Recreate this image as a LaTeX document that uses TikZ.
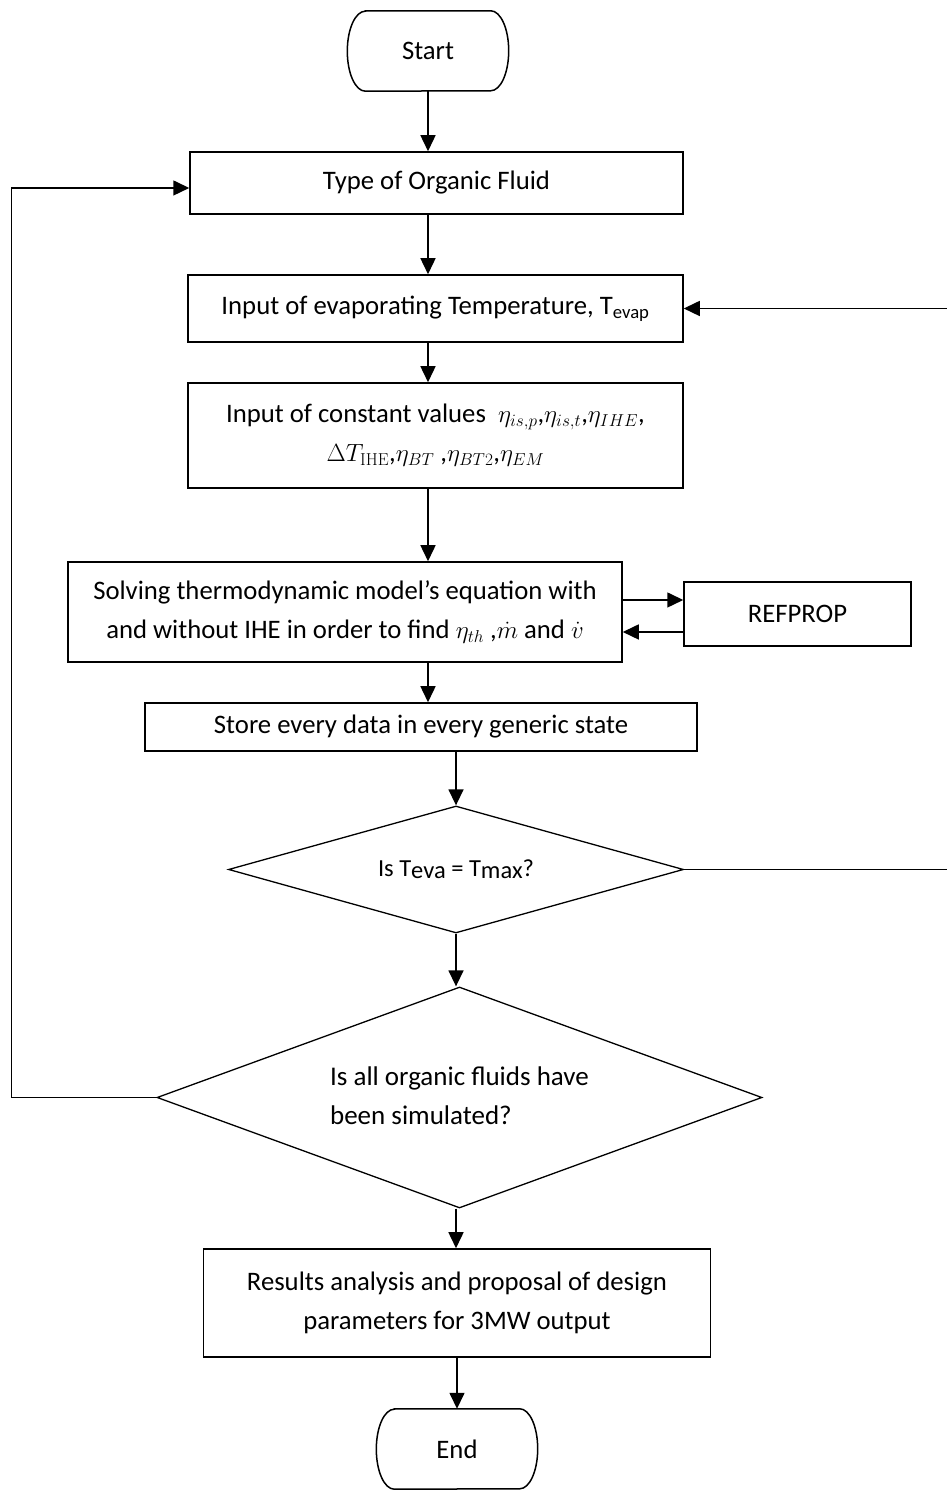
\documentclass[tikz,border=0pt]{standalone}
\usepackage[no-math]{fontspec}
\setmainfont{Carlito}
\usetikzlibrary{arrows.meta, positioning, shapes.geometric}

\begin{document}
\begin{tikzpicture}[
  x=1pt, y=1pt,
  font=\fontsize{26.7}{39}\selectfont,
  >={Triangle[length=16pt,width=15pt]},
  box/.style={draw, line width=1.5pt, align=center, inner sep=0pt},
  term/.style={inner sep=0pt, minimum width=161pt, minimum height=80pt},
  decision/.style={draw, diamond, line width=1.3pt, inner sep=0pt, align=left},
  flow/.style={->, line width=1.5pt}
]
\useasboundingbox (0,0) rectangle (946,1490);

% Terminals
\node[term] (start) at (428,1439) {Start};
\node[term] (end) at (457,41) {End};
\foreach \t in {start,end}
  \draw[line width=1.5pt] ([xshift=18pt]\t.north west) -- ([xshift=-18pt]\t.north east)
    arc[start angle=90, end angle=-90, x radius=18pt, y radius=40pt]
    -- ([xshift=18pt]\t.south west)
    arc[start angle=270, end angle=90, x radius=18pt, y radius=40pt] -- cycle;

% Process steps
\node[box, minimum width=493pt, minimum height=62pt] (fluid) at (436.5,1307) {Type of Organic Fluid};
\node[box, minimum width=495pt, minimum height=67pt] (evap) at (435.5,1181.5)
  {Input of evaporating Temperature, T\textsubscript{evap}};
\node[box, minimum width=495pt, minimum height=105pt] (consts) at (435.5,1054.5)
  {Input of constant values \ $\eta_{is,p}$,$\eta_{is,t}$,$\eta_{IHE}$,\\
   $\Delta T_{\mathrm{IHE}}$,$\eta_{BT}$ ,$\eta_{BT2}$,$\eta_{EM}$};
\node[box, minimum width=554pt, minimum height=100pt] (solve) at (345,878)
  {Solving thermodynamic model’s equation with\\
   and without IHE in order to find $\eta_{th}$ ,$\dot{m}$ and $\dot{v}$};
\node[box, minimum width=227pt, minimum height=64pt] (refprop) at (797.5,876) {REFPROP};
\node[box, minimum width=552pt, minimum height=48pt] (store) at (421,763)
  {Store every data in every generic state};

% Decisions
\node[decision, minimum width=455pt, minimum height=127pt, aspect=3.6,
      font=\fontsize{24.5}{39}\selectfont] (check) at (456,620.5)
  {\raisebox{-9pt}{Is T\raisebox{-2pt}{eva} = T\raisebox{-2pt}{max}?}};
\node[decision, minimum width=605pt, minimum height=221pt, aspect=2.7,
      font=\fontsize{27}{39}\selectfont] (allfluids) at (459.5,392.5)
  {\raisebox{5pt}{\begin{tabular}{@{}l@{}}Is all organic fluids have\\ been simulated?\end{tabular}}};

% Output
\node[box, minimum width=507pt, minimum height=108pt] (results) at (457,187)
  {Results analysis and proposal of design\\ parameters for 3MW output};

% Main spine
\draw[flow] (start.south) -- (start.south |- fluid.north);
\draw[flow] (start.south |- fluid.south) -- (start.south |- evap.north);
\draw[flow] (start.south |- evap.south) -- (start.south |- consts.north);
\draw[flow] (start.south |- consts.south) -- (start.south |- solve.north);
\draw[flow] (start.south |- solve.south) -- (start.south |- store.north);
\draw[flow] (store.south -| check.north) -- (check.north);
\draw[flow] (check.south) -- (check.south |- allfluids.north);
\draw[flow] (check.south |- allfluids.south) -- (check.south |- results.north);
\draw[flow] (results.south) -- (end.north);

% REFPROP exchange
\draw[flow] ([yshift=12pt]solve.east) -- ([yshift=12pt]solve.east -| refprop.west);
\draw[flow] ([yshift=-18pt]refprop.west) -- ([yshift=-18pt]refprop.west -| solve.east);

% Loops back
\draw[flow] (check.east) -- ++(270pt,0) |- (evap.east);
\draw[flow] (allfluids.west) -- ++(-145pt,0) |- ([yshift=-5pt]fluid.west);

\end{tikzpicture}
\end{document}
